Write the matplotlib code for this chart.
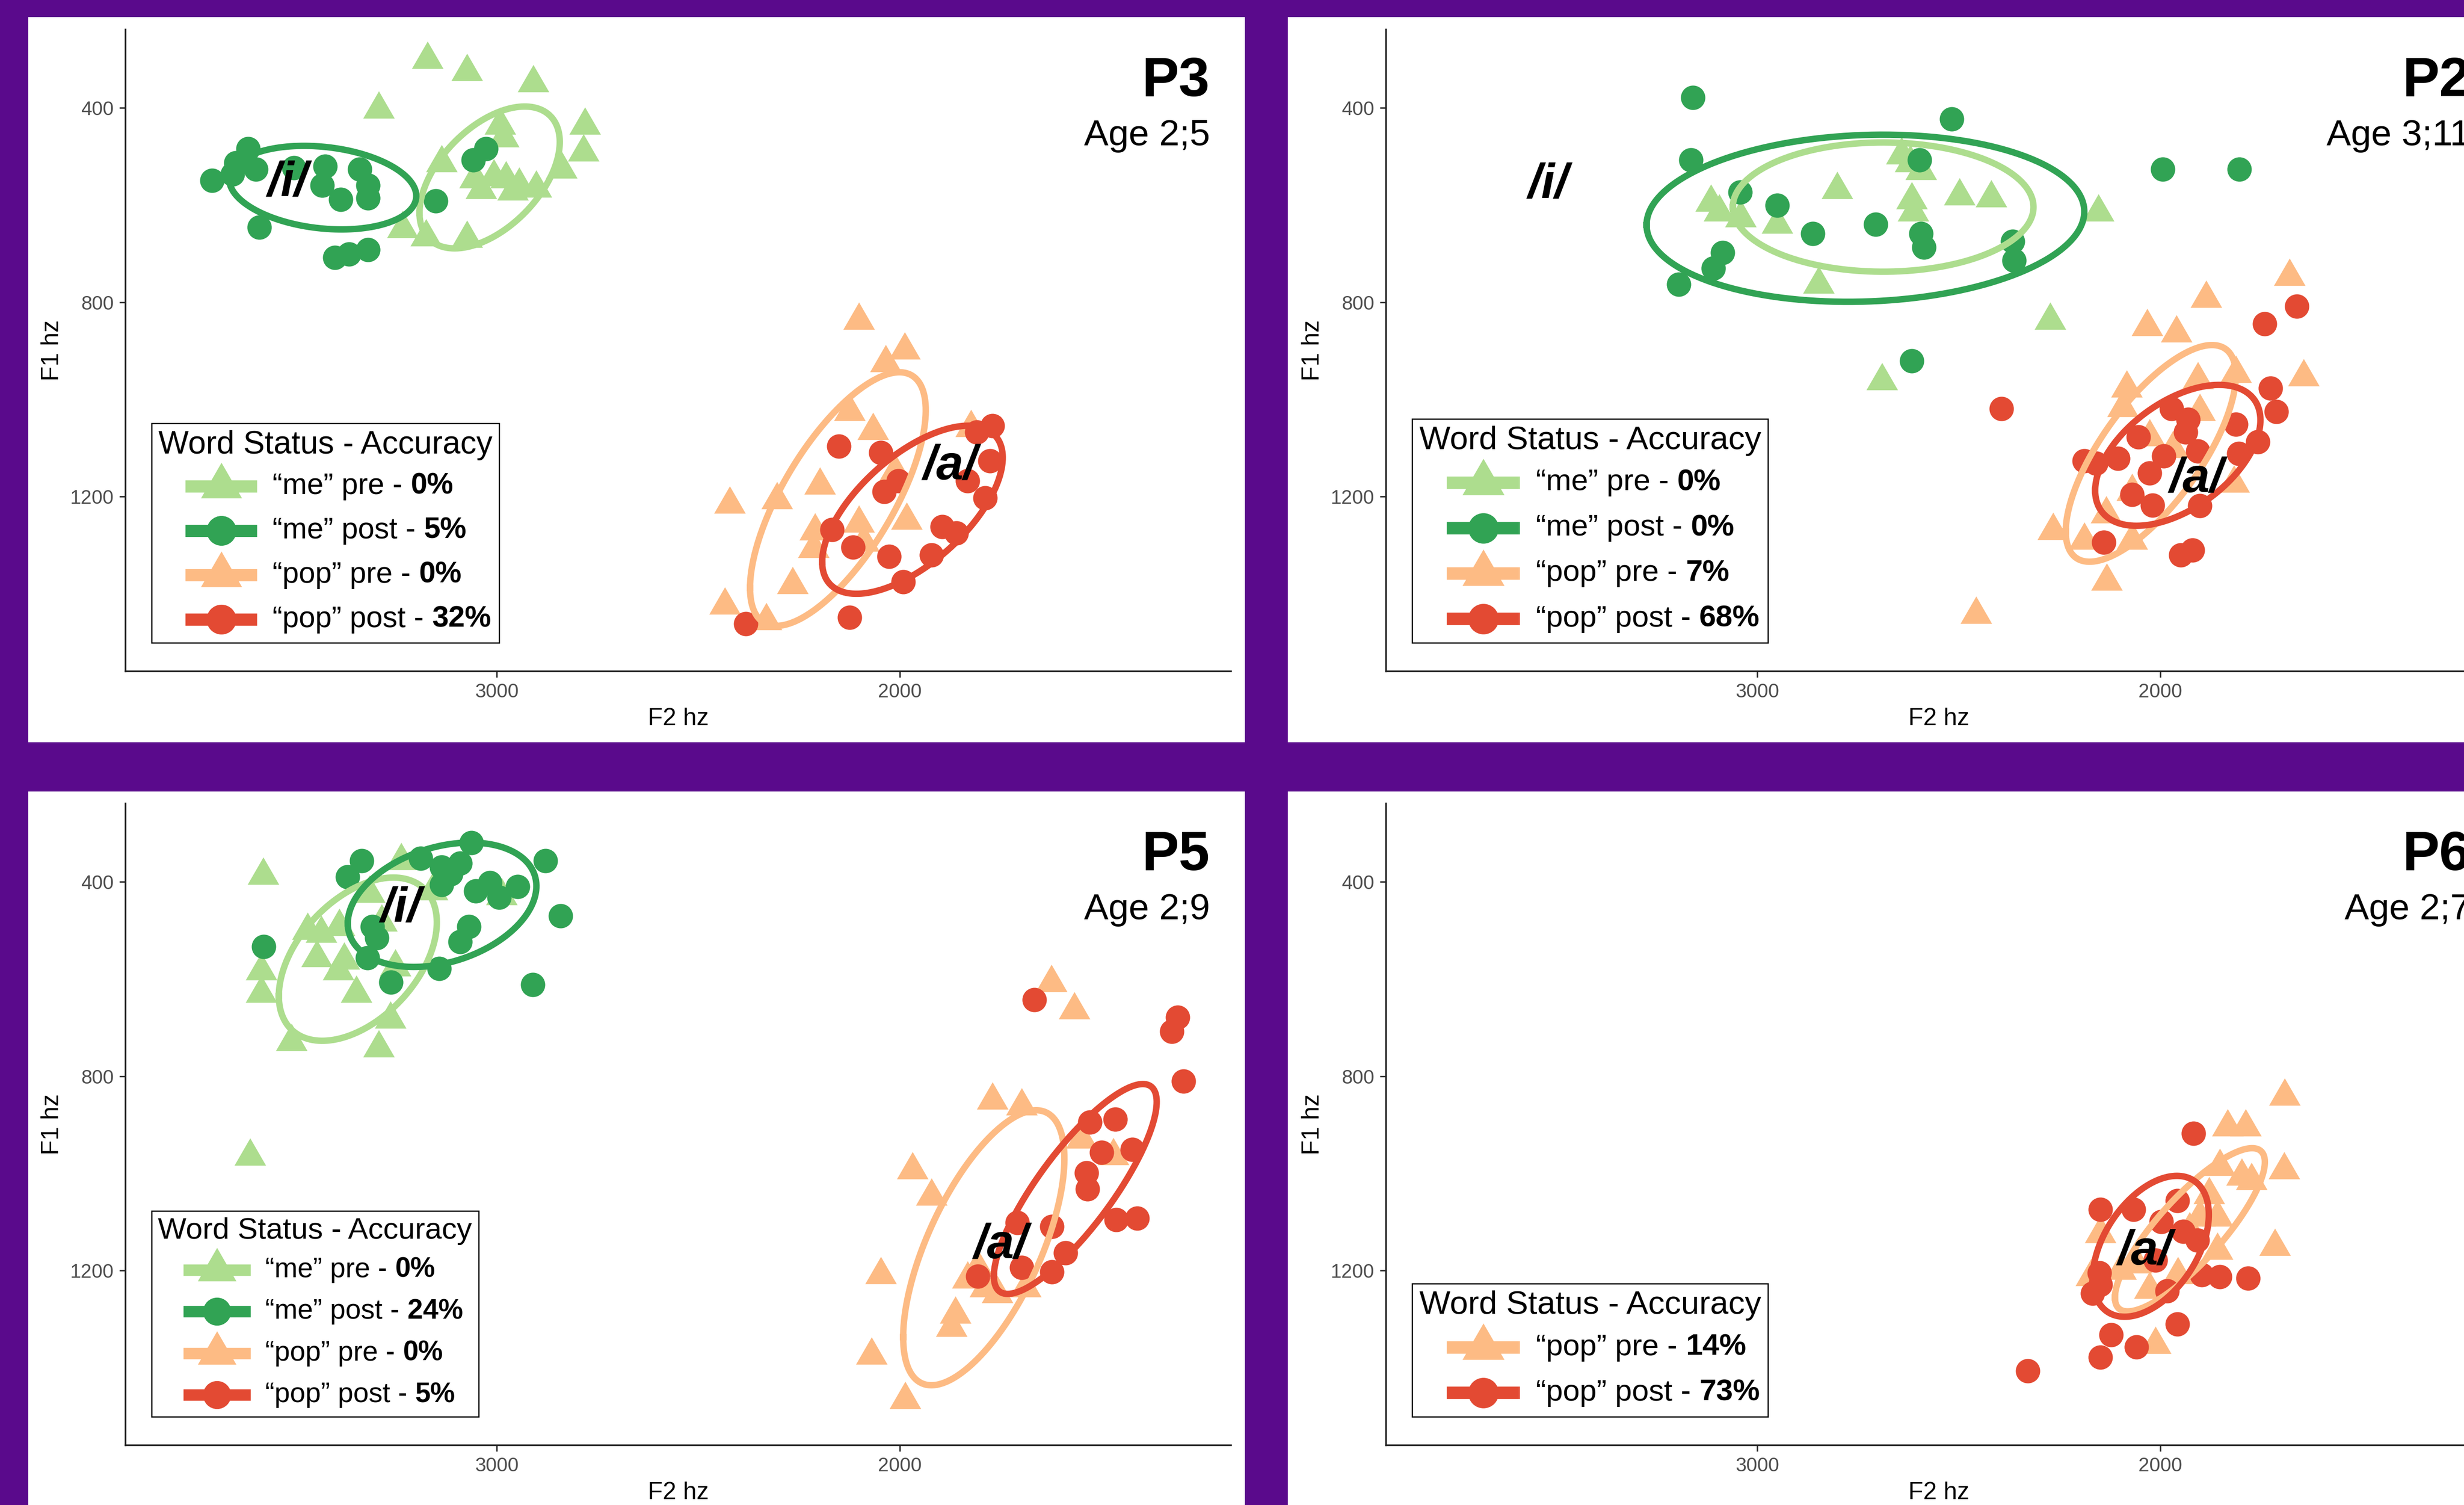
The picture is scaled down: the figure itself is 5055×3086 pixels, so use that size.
import numpy as np
import matplotlib
matplotlib.use("Agg")
import matplotlib.pyplot as plt
from matplotlib.path import Path
from matplotlib.markers import MarkerStyle
from matplotlib.lines import Line2D
from matplotlib.patches import Rectangle
from matplotlib.offsetbox import AnchoredOffsetbox, DrawingArea, HPacker, TextArea, VPacker

plt.rcParams["font.family"] = ["Liberation Sans", "DejaVu Sans"]

# ---------------------------------------------------------------- data (Hz)
# P3, age 2;5
p3_me_pre_f2 = [3172, 3074, 2910, 3293, 2781, 2785, 2992, 2984, 3137, 2840,
                3055, 3008, 2977, 2945, 2902, 3039, 2961, 3234, 3176, 3074]
p3_me_pre_f1 = [300, 325, 348, 403, 436, 491, 436, 462, 513, 526,
                546, 542, 546, 559, 565, 568, 571, 649, 666, 669]
p3_me_post_f2 = [3617, 3707, 3656, 3598, 3504, 3426, 3434, 3387, 3340, 3320,
                 3320, 3590, 3152, 3027, 3059, 3402, 3367, 3320, 3648]
p3_me_post_f1 = [484, 549, 536, 526, 523, 520, 559, 588, 526, 559,
                 585, 646, 591, 484, 507, 708, 701, 692, 513]
p3_pop_pre_f2 = [2102, 1988, 2035, 2125, 2067, 1824, 2422, 2305, 2199, 2012,
                 2102, 2211, 1984, 2215, 2090, 2266, 2434, 2332]
p3_pop_pre_f1 = [837, 899, 925, 1025, 1064, 1058, 1216, 1207, 1177, 1148,
                 1255, 1271, 1249, 1307, 1294, 1381, 1424, 1456]
p3_pop_post_f2 = [2152, 2047, 1770, 1809, 1777, 1832, 1789, 2039, 2004, 2168,
                  2117, 2027, 1922, 1895, 1860, 1992, 2383, 2125]
p3_pop_post_f1 = [1096, 1109, 1054, 1067, 1126, 1168, 1203, 1190, 1168, 1268,
                  1304, 1323, 1320, 1262, 1275, 1375, 1462, 1449]

# P2, age 3;11
p2_me_pre_f2 = [2642, 2594, 2802, 3115, 3095, 3041, 2951, 2617, 2614, 2498,
                2420, 2154, 2848, 2274, 2691, 2621]
p2_me_pre_f1 = [497, 529, 568, 594, 614, 626, 640, 589, 614, 581,
                585, 614, 763, 837, 962, 513]
p2_me_post_f2 = [3160, 2518, 3165, 1994, 1805, 2598, 3043, 2951, 2707, 2863,
                 2594, 2587, 2367, 2363, 3086, 3109, 3195, 2617]
p2_me_post_f1 = [379, 423, 507, 526, 526, 507, 573, 600, 640, 659,
                 659, 687, 675, 714, 698, 730, 763, 921]
p2_pop_pre_f2 = [1680, 1887, 2033, 1961, 1645, 2084, 1907, 1813, 1902, 2094,
                 2027, 1969, 2070, 1818, 2266, 2189, 2070, 2135, 2133, 2457]
p2_pop_pre_f1 = [747, 792, 850, 863, 954, 977, 960, 947, 1025, 1017,
                 1077, 1101, 1190, 1173, 1270, 1290, 1290, 1236, 1374, 1443]
p2_pop_post_f2 = [1662, 1742, 2395, 1727, 1713, 1973, 1931, 1938, 1813, 1758,
                  2055, 2106, 2160, 1992, 1907, 1806, 2027, 2070, 2020, 1902,
                  2141, 1949, 1920, 2189]
p2_pop_post_f1 = [808, 844, 1019, 977, 1025, 1019, 1041, 1067, 1051, 1087,
                  1077, 1121, 1131, 1116, 1106, 1111, 1151, 1196, 1218, 1219,
                  1294, 1320, 1310, 1126]

# P5, age 2;9
p5_me_pre_f2 = [3580, 3238, 3316, 3160, 2988, 3470, 3436, 3391, 3447, 3379,
                3393, 3584, 3584, 3349, 3252, 3264, 3510, 3293, 3613, 3286]
p5_me_pre_f1 = [387, 356, 424, 419, 429, 500, 506, 492, 556, 561,
                583, 583, 629, 629, 575, 683, 729, 742, 965, 483]
p5_me_post_f2 = [3336, 3370, 3063, 2880, 3189, 3137, 3114, 3137, 3091, 3052,
                 3017, 2949, 2994, 2842, 3069, 3091, 3309, 3298, 3578, 3321,
                 3143, 3263, 2911]
p5_me_post_f1 = [356, 390, 319, 356, 351, 370, 384, 406, 361, 419,
                 402, 410, 432, 470, 492, 523, 492, 515, 533, 556,
                 578, 606, 611]
p5_pop_pre_f2 = [1624, 1567, 1770, 1698, 1969, 1922, 1549, 1471, 2047, 1832,
                 1789, 1758, 1688, 1863, 1872, 2070, 1987, 1807]
p5_pop_pre_f1 = [607, 664, 849, 861, 993, 1047, 930, 964, 1209, 1218,
                 1236, 1248, 1236, 1290, 1317, 1374, 1466, 1194]
p5_pop_post_f2 = [1666, 1311, 1325, 1297, 1466, 1529, 1423, 1500, 1537, 1535,
                  1463, 1411, 1623, 1709, 1589, 1623, 1698, 1807]
p5_pop_post_f1 = [643, 679, 708, 810, 888, 894, 951, 957, 999, 1032,
                  1095, 1092, 1109, 1101, 1164, 1203, 1194, 1212]

# P6, age 2;7
p6_pop_pre_f2 = [1692, 1833, 1789, 1693, 1853, 1798, 1774, 1716, 1879, 1859,
                 1902, 1928, 2149, 2172, 2098, 2013, 2027, 1957, 2059, 1859]
p6_pop_pre_f1 = [841, 905, 905, 993, 986, 1006, 1015, 1150, 1044, 1090,
                 1090, 1116, 1124, 1213, 1200, 1352, 1239, 1209, 1187, 1158]
p6_pop_post_f2 = [1918, 2149, 2067, 1998, 1958, 1943, 1908, 2013, 2152, 2149,
                  2168, 1983, 1853, 1783, 1958, 2122, 2059, 2149, 2329, 1898]
p6_pop_post_f1 = [918, 1074, 1074, 1099, 1056, 1119, 1137, 1179, 1205, 1229,
                  1247, 1242, 1213, 1216, 1310, 1332, 1357, 1378, 1406, 1209]

# ellipses: centre F2, centre F1, half-range F2, half-range F1, correlation
p3_ellipses = {"me_pre": [3018, 543, 174, 146, 0.5], "me_post": [3432, 564, 232, 86, -0.2],
               "pop_pre": [2154, 1205, 218, 261, 0.7], "pop_post": [1969, 1227, 224, 173, 0.62]}
p2_ellipses = {"me_pre": [2688, 604, 373, 133, 0.0], "me_post": [2732, 627, 543, 172, 0.08],
               "pop_pre": [2024, 1111, 211, 223, 0.72], "pop_post": [1957, 1115, 205, 145, 0.5]}
p5_ellipses = {"me_pre": [3345, 559, 196, 168, 0.45], "me_post": [3136, 447, 234, 128, 0.3],
               "pop_pre": [1792, 1153, 200, 283, 0.65], "pop_post": [1565, 1032, 202, 216, 0.83]}
p6_ellipses = {"pop_pre": [1927, 1116, 186, 168, 0.83], "pop_post": [2024, 1150, 144, 145, 0.45]}

# vowel labels (F2, F1)
p3_vowels = [("/i/", 3519, 555), ("/a/", 1875, 1138)]
p2_vowels = [("/i/", 3519, 559), ("/a/", 1910, 1164)]
p5_vowels = [("/i/", 3238, 455), ("/a/", 1750, 1148)]
p6_vowels = [("/a/", 2039, 1161)]

p3_accuracy = ["0%", "5%", "0%", "32%"]
p2_accuracy = ["0%", "0%", "7%", "68%"]
p5_accuracy = ["0%", "24%", "0%", "5%"]
p6_accuracy = ["14%", "73%"]

x_ticks = [3000, 2000]
y_ticks = [400, 800, 1200]

# ---------------------------------------------------------------- styles
PURPLE = "#5A0A8C"
COLORS = {"me_pre": "#ADDD8E", "me_post": "#31A354", "pop_pre": "#FDBB84", "pop_post": "#E34A33"}
WORDS = {"me_pre": ("me", "pre"), "me_post": ("me", "post"),
         "pop_pre": ("pop", "pre"), "pop_post": ("pop", "post")}
TRI = MarkerStyle(Path([(0, 1), (-0.866, -0.5), (0.866, -0.5), (0, 1)], closed=True))


def marker_for(key):
    return TRI if key.endswith("pre") else "o"


def draw_ellipse(ax, params, color):
    cx, cy, a, b, r = params
    t = np.linspace(0, 2 * np.pi, 300)
    ax.plot(cx + a * np.cos(t), cy + b * np.cos(t - np.arccos(r)),
            color=color, lw=9.5, zorder=3, solid_joinstyle="round")


def add_legend(ax, keys, accuracy, scale):
    fs_item = 43.7 * scale
    row_h, indent, key_len = 49 * scale, 39.5 * scale, 106 * scale
    rows = []
    for key, pct in zip(keys, accuracy):
        col = COLORS[key]
        da = DrawingArea(indent + key_len, row_h, 0, 0)
        da.add_artist(Line2D([indent, indent + key_len], [row_h / 2] * 2, color=col,
                             lw=18 * scale, solid_capstyle="butt"))
        ms = 70 * scale if key.endswith("pre") else 44 * scale
        da.add_artist(Line2D([indent + key_len / 2], [row_h / 2], ls="none",
                             marker=marker_for(key), ms=ms, mfc=col, mec="none"))
        word, phase = WORDS[key]
        txt = HPacker(children=[TextArea("\u201c%s\u201d %s - " % (word, phase),
                                         textprops=dict(size=fs_item)),
                                TextArea(pct, textprops=dict(size=fs_item, weight="bold"))],
                      sep=0, pad=0, align="baseline")
        rows.append(HPacker(children=[da, txt], sep=23 * scale, pad=0, align="center"))
    title = TextArea("Word Status - Accuracy", textprops=dict(size=47.3 * scale))
    body = VPacker(children=rows, sep=16.5 * scale, pad=0, align="left")
    box = VPacker(children=[title, body], sep=14 * scale, pad=0, align="left")
    anc = AnchoredOffsetbox(loc="lower left", child=box, pad=1.0 * scale, borderpad=0,
                            frameon=True, bbox_to_anchor=(0.024, 0.044),
                            bbox_transform=ax.transAxes, prop=dict(size=10))
    anc.patch.set_edgecolor("black")
    anc.patch.set_linewidth(1.8)
    anc.set_zorder(5)
    ax.add_artist(anc)


def draw_panel(ax, groups, ellipses, vowels, name, age, accuracy, scale):
    for key, f2, f1 in groups:
        size = 2900 if key.endswith("pre") else 1300
        ax.scatter(f2, f1, s=size, marker=marker_for(key), c=COLORS[key],
                   linewidths=0, zorder=2)
    for key, _, _ in groups:
        draw_ellipse(ax, ellipses[key], COLORS[key])
    for lab, f2, f1 in vowels:
        ax.text(f2, f1, lab, size=72, weight="bold", style="italic",
                ha="center", va="center", zorder=4)

    ax.set_xlim(3922, 1179)
    ax.set_ylim(1559, 238)
    ax.set_xticks(x_ticks)
    ax.set_yticks(y_ticks)
    ax.tick_params(labelsize=29, labelcolor="#4D4D4D", length=9, width=2.2,
                   color="#333333", pad=8)
    ax.set_xlabel("F2 hz", size=36, labelpad=10)
    ax.set_ylabel("F1 hz", size=36, labelpad=10)
    for side in ("top", "right"):
        ax.spines[side].set_visible(False)
    for side in ("left", "bottom"):
        ax.spines[side].set_linewidth(2.5)
        ax.spines[side].set_color("#222222")
    ax.set_facecolor("none")

    ax.text(0.981, 0.896, name, transform=ax.transAxes, size=82, weight="bold",
            ha="right", va="baseline")
    ax.text(0.981, 0.819, age, transform=ax.transAxes, size=54,
            ha="right", va="baseline")
    add_legend(ax, [g[0] for g in groups], accuracy, scale)


# ---------------------------------------------------------------- figure
fig = plt.figure(figsize=(50.55, 30.86), dpi=100)
fig.patch.set_facecolor(PURPLE)

for x0, y0, w, h in [(0.01147, 0.50680, 0.49387, 0.48185), (0.52265, 0.50680, 0.48, 0.48185),
                     (0.01147, 0.0, 0.49387, 0.47408), (0.52265, 0.0, 0.48, 0.47408)]:
    fig.add_artist(Rectangle((x0, y0), w, h, transform=fig.transFigure,
                             facecolor="white", edgecolor="none", zorder=-5))

ax_w, ax_h = 0.4487, 0.42644
ax_p3 = fig.add_axes([0.05084, 0.55412, ax_w, ax_h])
ax_p2 = fig.add_axes([0.56241, 0.55412, ax_w, ax_h])
ax_p5 = fig.add_axes([0.05084, 0.03986, ax_w, ax_h])
ax_p6 = fig.add_axes([0.56241, 0.03986, ax_w, ax_h])

draw_panel(ax_p3, [("me_pre", p3_me_pre_f2, p3_me_pre_f1), ("me_post", p3_me_post_f2, p3_me_post_f1),
                   ("pop_pre", p3_pop_pre_f2, p3_pop_pre_f1), ("pop_post", p3_pop_post_f2, p3_pop_post_f1)],
           p3_ellipses, p3_vowels, "P3", "Age 2;5", p3_accuracy, 1.0)
draw_panel(ax_p2, [("me_pre", p2_me_pre_f2, p2_me_pre_f1), ("me_post", p2_me_post_f2, p2_me_post_f1),
                   ("pop_pre", p2_pop_pre_f2, p2_pop_pre_f1), ("pop_post", p2_pop_post_f2, p2_pop_post_f1)],
           p2_ellipses, p2_vowels, "P2", "Age 3;11", p2_accuracy, 1.023)
draw_panel(ax_p5, [("me_pre", p5_me_pre_f2, p5_me_pre_f1), ("me_post", p5_me_post_f2, p5_me_post_f1),
                   ("pop_pre", p5_pop_pre_f2, p5_pop_pre_f1), ("pop_post", p5_pop_post_f2, p5_pop_post_f1)],
           p5_ellipses, p5_vowels, "P5", "Age 2;9", p5_accuracy, 0.94)
draw_panel(ax_p6, [("pop_pre", p6_pop_pre_f2, p6_pop_pre_f1), ("pop_post", p6_pop_post_f2, p6_pop_post_f1)],
           p6_ellipses, p6_vowels, "P6", "Age 2;7", p6_accuracy, 1.023)

fig.savefig("out.png", dpi=100, facecolor=fig.get_facecolor())
